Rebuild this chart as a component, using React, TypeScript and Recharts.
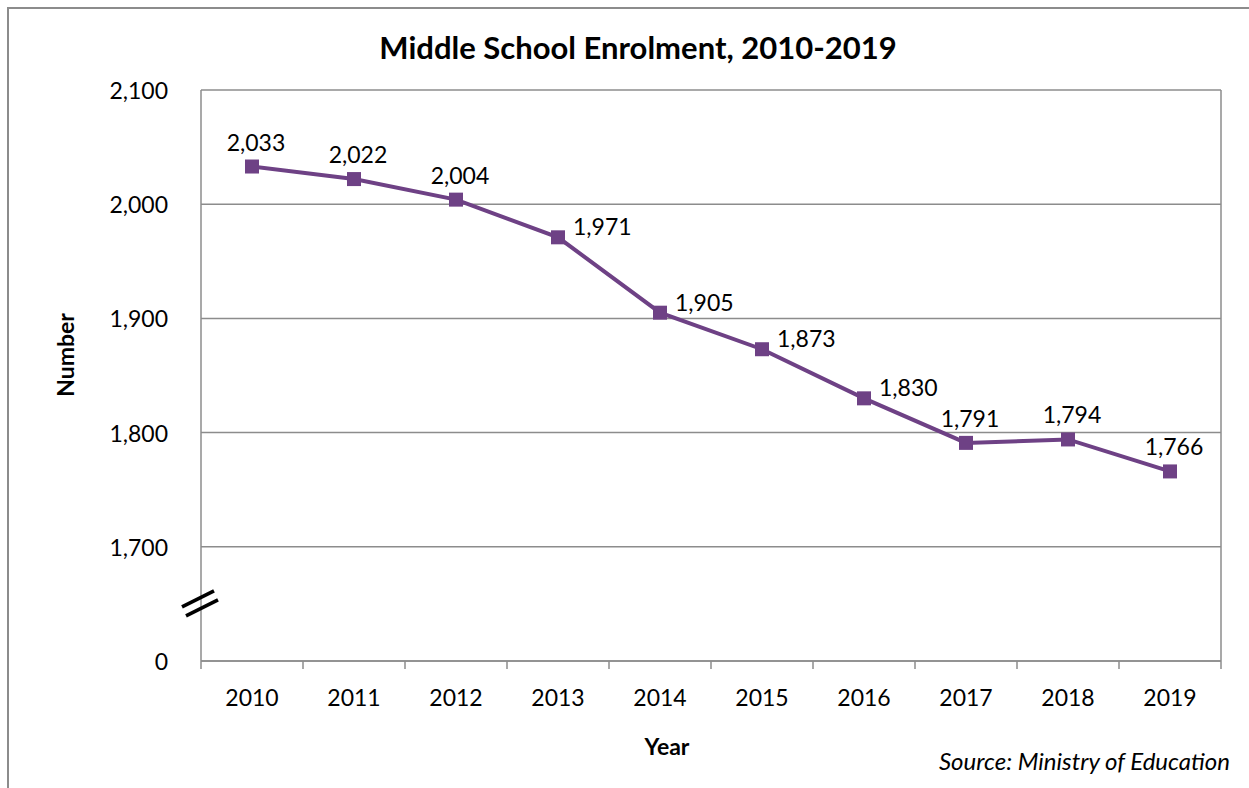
import React from 'react';
import { LineChart, Line, XAxis, YAxis, CartesianGrid } from 'recharts';

// ---- data ----
const YEARS = ['2010', '2011', '2012', '2013', '2014', '2015', '2016', '2017', '2018', '2019'];
const ENROLMENT = [2033, 2022, 2004, 1971, 1905, 1873, 1830, 1791, 1794, 1766];
// axis is broken: the bottom tick (1600 on the scale) is shown as "0"
const Y_TICKS = [1600, 1700, 1800, 1900, 2000, 2100];
const Y_TICK_LABELS = ['0', '1,700', '1,800', '1,900', '2,000', '2,100'];
const RIGHT_LABEL_YEARS = ['2013', '2014', '2015', '2016'];

const TITLE = 'Middle School Enrolment, 2010-2019';
const X_TITLE = 'Year';
const Y_TITLE = 'Number';
const SOURCE = 'Source: Ministry of Education';

// ---- layout / style ----
const W = 1249;
const H = 788;
const PLOT_LEFT = 201;
const PLOT_RIGHT = 1221;
const PLOT_TOP = 90;
const PLOT_BOTTOM = 661;
const PLOT_W = PLOT_RIGHT - PLOT_LEFT;
const PLOT_H = PLOT_BOTTOM - PLOT_TOP;
const YAXIS_W = 60;
const XAXIS_H = 40;
const FONT = 'Lato, "Open Sans", sans-serif';
const PURPLE = '#6E4185';
const GRID = '#8c8c8c';
const FS = 23;

const data = YEARS.map((year, i) => ({ year, value: ENROLMENT[i] }));

const fmt = (v: number) => {
  const i = Y_TICKS.indexOf(v);
  return i >= 0 ? Y_TICK_LABELS[i] : String(v);
};

const YTick = (props: any) => {
  const { x, y, payload } = props;
  const v = payload.value;
  const half = PLOT_H / (Y_TICKS.length - 1) / 2;
  return (
    <g>
      <text x={x - 33} y={y} textAnchor="end" dominantBaseline="central" fontSize={FS} fontFamily={FONT} fill="#000">
        {fmt(v)}
      </text>
      {v === Y_TICKS[0] && (
        <g stroke="#000" strokeWidth={3.5}>
          <line x1={x - 19} y1={y - half + 3} x2={x + 13} y2={y - half - 13} />
          <line x1={x - 15} y1={y - half + 12} x2={x + 17} y2={y - half - 4} />
        </g>
      )}
    </g>
  );
};

const XTick = (props: any) => {
  const { x, y, payload } = props;
  const half = PLOT_W / YEARS.length / 2;
  const last = payload.value === YEARS[YEARS.length - 1];
  return (
    <g>
      <line x1={x - half} y1={y} x2={x - half} y2={y + 8} stroke={GRID} strokeWidth={1.5} />
      {last && <line x1={x + half} y1={y} x2={x + half} y2={y + 8} stroke={GRID} strokeWidth={1.5} />}
      <text x={x} y={y + 36} textAnchor="middle" dominantBaseline="central" fontSize={FS} fontFamily={FONT} fill="#000">
        {payload.value}
      </text>
    </g>
  );
};

const Square = (props: any) => {
  const { cx, cy, index } = props;
  if (cx == null || cy == null) return <g key={`d${index}`} />;
  return <rect key={`d${index}`} x={cx - 7} y={cy - 7} width={14} height={14} fill={PURPLE} />;
};

const ValueLabel = (props: any) => {
  const { x, y, value, index } = props;
  const year = YEARS[index];
  const right = RIGHT_LABEL_YEARS.includes(year);
  const text = Number(value).toLocaleString('en-US');
  return right ? (
    <text x={x + 15} y={y - 11} textAnchor="start" dominantBaseline="central" fontSize={FS} fontFamily={FONT} fill="#000">
      {text}
    </text>
  ) : (
    <text x={x + 4} y={y - 25} textAnchor="middle" dominantBaseline="central" fontSize={FS} fontFamily={FONT} fill="#000">
      {text}
    </text>
  );
};

export default function App() {
  return (
    <div
      style={{
        position: 'absolute',
        left: 0,
        top: 0,
        width: W,
        height: H,
        overflow: 'hidden',
        background: '#fff',
        fontFamily: FONT,
      }}
    >
      <div
        style={{
          position: 'absolute',
          left: 7,
          top: 7,
          width: 1300,
          height: 900,
          border: `2px solid ${GRID}`,
          boxSizing: 'border-box',
        }}
      />
      <LineChart
        width={W}
        height={H}
        data={data}
        margin={{
          top: PLOT_TOP,
          left: PLOT_LEFT - YAXIS_W,
          right: W - PLOT_RIGHT,
          bottom: H - PLOT_BOTTOM - XAXIS_H,
        }}
        style={{ position: 'absolute', left: 0, top: 0 }}
      >
        <CartesianGrid
          stroke={GRID}
          strokeWidth={1.5}
          horizontal
          vertical
          verticalCoordinatesGenerator={({ offset }: any) => [offset.left + offset.width]}
        />
        <XAxis
          dataKey="year"
          scale="band"
          height={XAXIS_H}
          tickSize={0}
          tickMargin={0}
          tickLine={false}
          axisLine={{ stroke: GRID, strokeWidth: 1.5 }}
          tick={<XTick />}
          interval={0}
        />
        <YAxis
          width={YAXIS_W}
          domain={[Y_TICKS[0], Y_TICKS[Y_TICKS.length - 1]]}
          ticks={Y_TICKS}
          interval={0}
          allowDataOverflow
          tickSize={0}
          tickMargin={0}
          tickLine={false}
          axisLine={{ stroke: GRID, strokeWidth: 1.5 }}
          tick={<YTick />}
        />
        <Line
          dataKey="value"
          stroke={PURPLE}
          strokeWidth={4}
          dot={<Square />}
          activeDot={false}
          label={<ValueLabel />}
          isAnimationActive={false}
        />
      </LineChart>
      <div
        style={{
          position: 'absolute',
          left: 638,
          top: 47,
          transform: 'translate(-50%, -50%)',
          whiteSpace: 'nowrap',
          fontWeight: 700,
          fontSize: 31,
          color: '#000',
        }}
      >
        {TITLE}
      </div>
      <div
        style={{
          position: 'absolute',
          left: 65,
          top: 355,
          transform: 'translate(-50%, -50%) rotate(-90deg)',
          whiteSpace: 'nowrap',
          fontWeight: 700,
          fontSize: FS,
          color: '#000',
        }}
      >
        {Y_TITLE}
      </div>
      <div
        style={{
          position: 'absolute',
          left: 667,
          top: 746,
          transform: 'translate(-50%, -50%)',
          whiteSpace: 'nowrap',
          fontWeight: 700,
          fontSize: FS,
          color: '#000',
        }}
      >
        {X_TITLE}
      </div>
      <div
        style={{
          position: 'absolute',
          right: W - 1230,
          top: 760,
          transform: 'translateY(-50%)',
          whiteSpace: 'nowrap',
          fontStyle: 'italic',
          fontSize: 24,
          color: '#000',
        }}
      >
        {SOURCE}
      </div>
    </div>
  );
}
